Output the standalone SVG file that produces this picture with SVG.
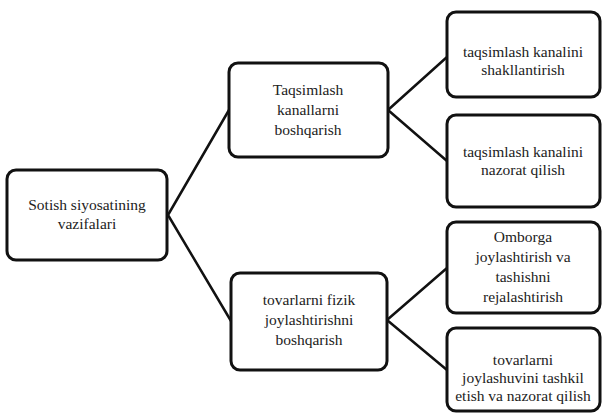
<svg xmlns="http://www.w3.org/2000/svg" width="605" height="415" viewBox="0 0 605 415">
<style>
.box{fill:#fff;stroke:#111;stroke-width:3}
.t{font-family:'Liberation Serif','Times New Roman','DejaVu Serif',serif;font-size:15.5px;fill:#222;text-anchor:middle}
.c{stroke:#111;stroke-width:2.5;fill:none}
</style>
<rect width="605" height="415" fill="#fff"/>
<g id="connectors">
<path class="c" d="M168 215 L229 110 M168 215 L231 321"/>
<path class="c" d="M388 110 L447 57 M388 110 L447 161"/>
<path class="c" d="M387 320 L447 268 M387 320 L447 370"/>
</g>
<g id="root">
<rect class="box" x="7" y="170" width="160" height="90" rx="9"/>
<text class="t" font-family="Liberation Serif, serif" x="87" y="210">Sotish siyosatining</text>
<text class="t" font-family="Liberation Serif, serif" x="87" y="229">vazifalari</text>
</g>
<g id="mid1">
<rect class="box" x="229" y="63" width="159" height="94" rx="9"/>
<text class="t" x="308" y="95">Taqsimlash</text>
<text class="t" x="308" y="115">kanallarni</text>
<text class="t" x="308" y="135">boshqarish</text>
</g>
<g id="mid2">
<rect class="box" x="231" y="273" width="156" height="97" rx="9"/>
<text class="t" x="309" y="305">tovarlarni fizik</text>
<text class="t" x="309" y="325">joylashtirishni</text>
<text class="t" x="309" y="345">boshqarish</text>
</g>
<g id="leaf1">
<rect class="box" x="447" y="12" width="153" height="85" rx="9"/>
<text class="t" x="523" y="57">taqsimlash kanalini</text>
<text class="t" x="523" y="75">shakllantirish</text>
</g>
<g id="leaf2">
<rect class="box" x="447" y="115" width="153" height="92" rx="9"/>
<text class="t" x="523" y="157">taqsimlash kanalini</text>
<text class="t" x="523" y="175">nazorat qilish</text>
</g>
<g id="leaf3">
<rect class="box" x="447" y="222" width="153" height="91" rx="9"/>
<text class="t" x="523" y="242">Omborga</text>
<text class="t" x="523" y="262">joylashtirish va</text>
<text class="t" x="523" y="282">tashishni</text>
<text class="t" x="523" y="302">rejalashtirish</text>
</g>
<g id="leaf4">
<rect class="box" x="447" y="328" width="153" height="83" rx="9"/>
<text class="t" x="523" y="365">tovarlarni</text>
<text class="t" x="523" y="383">joylashuvini tashkil</text>
<text class="t" x="523" y="401">etish va nazorat qilish</text>
</g>
</svg>
